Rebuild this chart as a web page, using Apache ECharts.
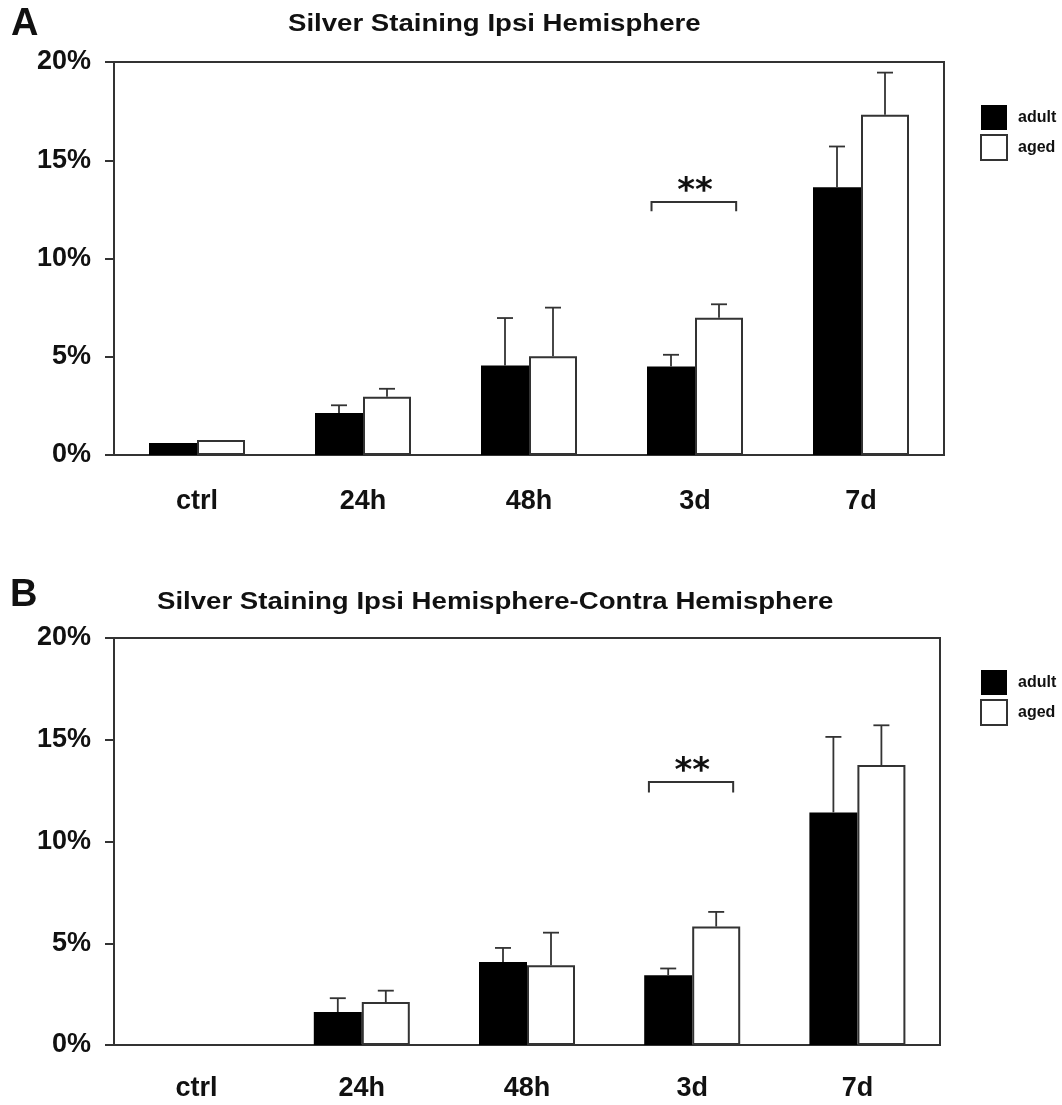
<!DOCTYPE html>
<html>
<head>
<meta charset="utf-8">
<script src="https://cdn.jsdelivr.net/npm/echarts@6/dist/echarts.min.js"></script>
<style>
html,body{margin:0;padding:0;background:#fff;}
#chart{width:1062px;height:1105px;}
</style>
</head>
<body>
<div id="chart"></div>
<script>
// ---- data ----
var categories = ['ctrl', '24h', '48h', '3d', '7d'];
var yTicks = [0, 5, 10, 15, 20];

var aAdult    = [0.61, 2.14, 4.55, 4.50, 13.62];
var aAdultErr = [null, 2.53, 6.97, 5.10, 15.70];
var aAged     = [0.76, 2.97, 5.03, 6.99, 17.32];
var aAgedErr  = [null, 3.37, 7.50, 7.67, 19.46];
var aSig      = [[3, 12.87, 12.40]];

var bAdult    = [0, 1.62, 4.08, 3.43, 11.43];
var bAdultErr = [null, 2.30, 4.77, 3.76, 15.14];
var bAged     = [0, 2.11, 3.92, 5.82, 13.76];
var bAgedErr  = [null, 2.67, 5.52, 6.54, 15.71];
var bSig      = [[3, 12.92, 12.41]];

var titleA = 'Silver Staining Ipsi Hemisphere';
var titleB = 'Silver Staining Ipsi Hemisphere-Contra Hemisphere';

// ---- style ----
var FONT = '"Liberation Sans", Arial, sans-serif';
var BARW = 48;
var LINE = '#333';

function errData(vals, errs) {
  var out = [];
  for (var i = 0; i < vals.length; i++) {
    if (errs[i] != null) out.push([i, vals[i], errs[i]]);
  }
  return out;
}

function errRender(sign) {
  return function (params, api) {
    var x = api.value(0);
    var p0 = api.coord([x, api.value(1)]);
    var p1 = api.coord([x, api.value(2)]);
    var cx = p0[0] + sign * BARW / 2;
    var style = { stroke: LINE, lineWidth: 1.8 };
    return {
      type: 'group',
      children: [
        { type: 'line', shape: { x1: cx, y1: p0[1], x2: cx, y2: p1[1] }, style: style },
        { type: 'line', shape: { x1: cx - 8, y1: p1[1], x2: cx + 8, y2: p1[1] }, style: style }
      ]
    };
  };
}

function sigRender(params, api) {
  var x = api.value(0);
  var band = api.size([1, 0])[0];
  var pTop = api.coord([x, api.value(1)]);
  var pLeg = api.coord([x, api.value(2)]);
  var xl = pTop[0] - 0.262 * band;
  var xr = pTop[0] + 0.248 * band;
  return {
    type: 'group',
    children: [
      { type: 'polyline', shape: { points: [[xl, pLeg[1]], [xl, pTop[1]], [xr, pTop[1]], [xr, pLeg[1]]] },
        style: { stroke: LINE, lineWidth: 2, fill: null } },
      { type: 'text', x: pTop[0], y: pTop[1] + 7,
        style: { text: '**', fill: '#111', font: 'bold 34px "DejaVu Sans", sans-serif',
                 align: 'center', verticalAlign: 'bottom' } }
    ]
  };
}

function axisX(gi, margin) {
  return {
    type: 'category', gridIndex: gi, data: categories,
    axisLine: { lineStyle: { color: LINE, width: 2 } },
    axisTick: { show: false },
    axisLabel: { color: '#111', fontFamily: FONT, fontWeight: 'bold', fontSize: 27, margin: margin }
  };
}
function axisY(gi) {
  return {
    type: 'value', gridIndex: gi, min: yTicks[0], max: yTicks[yTicks.length - 1],
    interval: yTicks[1] - yTicks[0],
    axisLine: { show: true, lineStyle: { color: LINE, width: 2 } },
    axisTick: { show: true, inside: false, length: 9, lineStyle: { color: LINE, width: 2 } },
    splitLine: { show: false },
    axisLabel: { color: '#111', fontFamily: FONT, fontWeight: 'bold', fontSize: 27, margin: 23,
                 padding: [4, 0, 0, 0], formatter: '{value}%' }
  };
}

function barSeries(name, data, gi, aged) {
  return {
    name: name, type: 'bar', xAxisIndex: gi, yAxisIndex: gi, data: data,
    barWidth: BARW, barGap: '0%',
    itemStyle: aged ? { color: '#fff', borderColor: LINE, borderWidth: 2 } : { color: '#000' },
    emphasis: { disabled: true }, animation: false
  };
}
function errSeries(name, vals, errs, gi, sign) {
  return {
    name: name, type: 'custom', xAxisIndex: gi, yAxisIndex: gi,
    data: errData(vals, errs), renderItem: errRender(sign), animation: false, silent: true, z: 3
  };
}
function sigSeries(name, data, gi) {
  return {
    name: name, type: 'custom', xAxisIndex: gi, yAxisIndex: gi,
    data: data, renderItem: sigRender, animation: false, silent: true, z: 3
  };
}
function legend(top) {
  return {
    data: ['adult', 'aged'], orient: 'vertical', left: 980, top: top, padding: 0,
    itemWidth: 26, itemHeight: 25, itemGap: 4, icon: 'rect', selectedMode: false,
    textStyle: { fontFamily: FONT, fontWeight: 'bold', fontSize: 16, color: '#111', padding: [0, 0, 0, 6] }
  };
}
function titleText(text, x, y) {
  return {
    type: 'text', x: x, y: y, scaleX: 1.2, scaleY: 1, silent: true,
    style: { text: text, fill: '#111', font: 'bold 23px "Liberation Sans", Arial, sans-serif',
             verticalAlign: 'top' }
  };
}

var chart = echarts.init(document.getElementById('chart'), null, { renderer: 'canvas' });
chart.setOption({
  backgroundColor: '#fff',
  animation: false,
  title: [
    { text: 'A', left: 11, top: 6, padding: 0,
      textStyle: { fontFamily: FONT, fontWeight: 'bold', fontSize: 38, color: '#111' } },
    { text: 'B', left: 10, top: 577, padding: 0,
      textStyle: { fontFamily: FONT, fontWeight: 'bold', fontSize: 38, color: '#111' } }
  ],
  graphic: [
    titleText(titleA, 288, 13),
    titleText(titleB, 157, 591)
  ],
  legend: [legend(105), legend(670)],
  grid: [
    { left: 114, top: 62, width: 830, height: 393, show: true, borderColor: LINE, borderWidth: 2, backgroundColor: 'transparent' },
    { left: 114, top: 638, width: 826, height: 407, show: true, borderColor: LINE, borderWidth: 2, backgroundColor: 'transparent' }
  ],
  xAxis: [axisX(0, 33), axisX(1, 30)],
  yAxis: [axisY(0), axisY(1)],
  series: [
    barSeries('adult', aAdult, 0, false),
    barSeries('aged', aAged, 0, true),
    errSeries('adultErrA', aAdult, aAdultErr, 0, -1),
    errSeries('agedErrA', aAged, aAgedErr, 0, 1),
    sigSeries('sigA', aSig, 0),
    barSeries('adult', bAdult, 1, false),
    barSeries('aged', bAged, 1, true),
    errSeries('adultErrB', bAdult, bAdultErr, 1, -1),
    errSeries('agedErrB', bAged, bAgedErr, 1, 1),
    sigSeries('sigB', bSig, 1)
  ]
});
</script>
</body>
</html>
